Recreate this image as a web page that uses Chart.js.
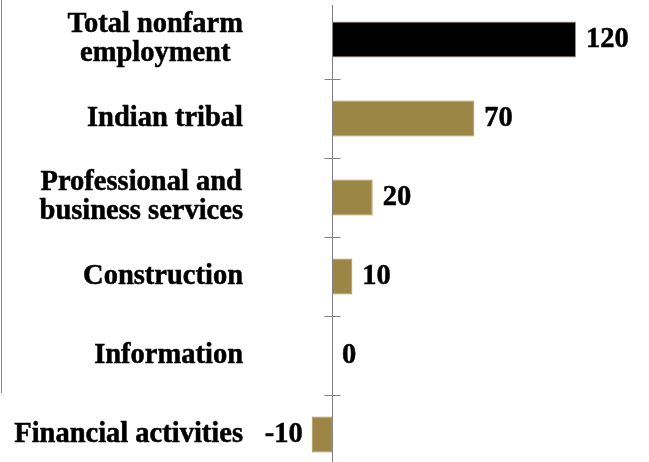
<!DOCTYPE html>
<html>
<head>
<meta charset="utf-8">
<script src="https://cdn.jsdelivr.net/npm/chart.js@4/dist/chart.umd.min.js"></script>
<style>
  html, body { margin: 0; padding: 0; background: #fff; overflow: hidden; }
  #wrap { position: relative; width: 649px; height: 474px; }
  #edge { position: absolute; left: 1px; top: 0; width: 0; height: 393px; border-left: 1px solid #8a8a8a; }
  canvas { display: block; }
</style>
</head>
<body>
<div id="wrap">
  <div id="edge"></div>
  <canvas id="chart" width="649" height="474"></canvas>
</div>
<script>
const categories = [
  ["Total nonfarm", "employment"],
  ["Indian tribal"],
  ["Professional and", "business services"],
  ["Construction"],
  ["Information"],
  ["Financial activities"],
];
const values = [120, 70, 20, 10, 0, -10];
const barColors = ["#000000", "#9b8645", "#9b8645", "#9b8645", "#9b8645", "#9b8645"];

const fontFamily = "'Liberation Serif', 'Times New Roman', serif";
const fontSize = 28.5;
const labelRight = 243;

// axis line, cross ticks, category labels and value labels
const drawExtras = {
  id: "drawExtras",
  afterDatasetsDraw(chart) {
    const ctx = chart.ctx;
    const x = chart.scales.x;
    const y = chart.scales.y;
    const area = chart.chartArea;
    const zero = Math.round(x.getPixelForValue(0)) + 0.5;

    ctx.save();
    ctx.strokeStyle = "#808080";
    ctx.lineWidth = 1;
    ctx.beginPath();
    ctx.moveTo(zero, area.top + 5);
    ctx.lineTo(zero, area.bottom);
    for (let i = 0; i < categories.length - 1; i++) {
      const ty = Math.round((y.getPixelForValue(i) + y.getPixelForValue(i + 1)) / 2) + 0.5;
      ctx.moveTo(zero - 8, ty);
      ctx.lineTo(zero + 8, ty);
    }
    ctx.stroke();

    ctx.fillStyle = "#000";
    ctx.strokeStyle = "#000";
    ctx.lineWidth = 0.5;
    ctx.font = "bold " + fontSize + "px " + fontFamily;
    ctx.textBaseline = "middle";
    const lineH = 29;
    const put = (t, px, py) => {
      ctx.fillText(t, px, py);
      ctx.strokeText(t, px, py);
    };
    categories.forEach((lines, i) => {
      const cy = y.getPixelForValue(i);
      const widest = Math.max(...lines.map((l) => ctx.measureText(l).width));
      const cx = labelRight - widest / 2;
      ctx.textAlign = "center";
      lines.forEach((l, j) => {
        put(l, cx, cy + (j - (lines.length - 1) / 2) * lineH);
      });
    });

    const meta = chart.getDatasetMeta(0);
    meta.data.forEach((bar, i) => {
      const v = values[i];
      if (v < 0) {
        ctx.textAlign = "right";
        put(String(v), bar.x - 9, bar.y);
      } else {
        ctx.textAlign = "left";
        put(String(v), bar.x + 10, bar.y);
      }
    });
    ctx.restore();
  },
};

new Chart(document.getElementById("chart"), {
  type: "bar",
  data: {
    labels: categories,
    datasets: [
      {
        data: values,
        backgroundColor: barColors,
        borderColor: "#a8935a",
        borderWidth: 1,
        borderSkipped: false,
        categoryPercentage: 1,
        barPercentage: 0.456,
      },
    ],
  },
  options: {
    indexAxis: "y",
    responsive: false,
    animation: false,
    layout: { padding: 0 },
    plugins: {
      legend: { display: false },
      tooltip: { enabled: false },
    },
    scales: {
      x: { display: false, min: -163.3, max: 155.9 },
      y: { display: false },
    },
  },
  plugins: [drawExtras],
});
</script>
</body>
</html>
